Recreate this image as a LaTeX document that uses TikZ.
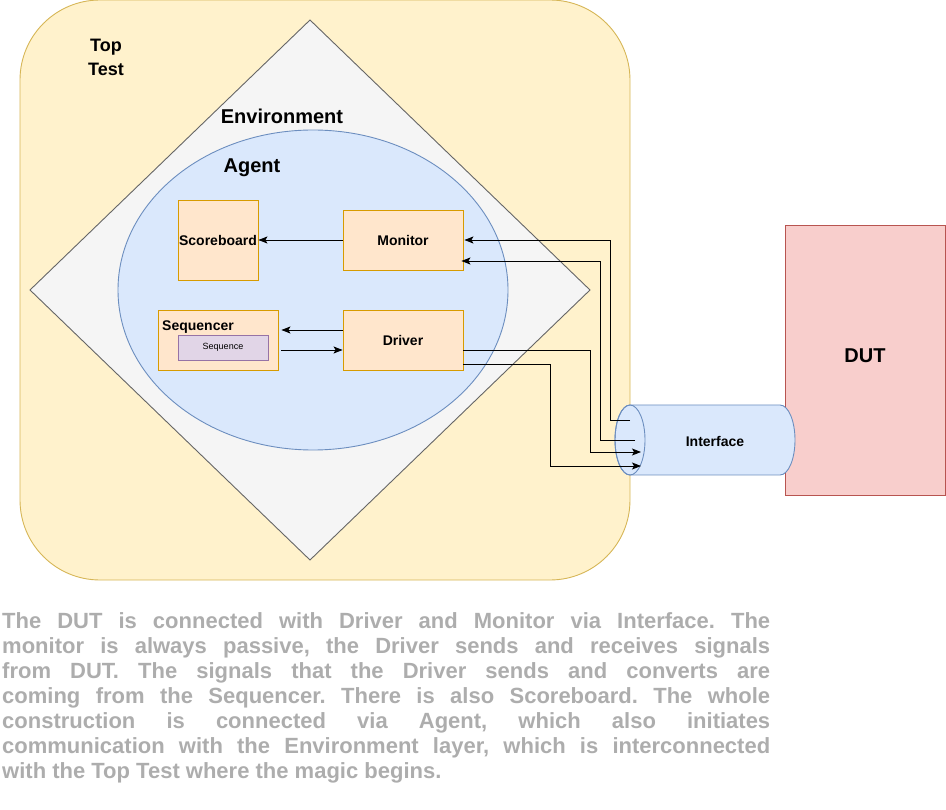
\documentclass[tikz,border=0pt]{standalone}
\usepackage{fontspec}
\setmainfont{Liberation Sans}
\usetikzlibrary{shapes.geometric,arrows.meta,calc}
\definecolor{ttfill}{HTML}{FFF2CC}
\definecolor{ttline}{HTML}{D6B656}
\definecolor{envfill}{HTML}{F5F5F5}
\definecolor{envline}{HTML}{666666}
\definecolor{agfill}{HTML}{DAE8FC}
\definecolor{agline}{HTML}{6C8EBF}
\definecolor{bxfill}{HTML}{FFE6CC}
\definecolor{bxline}{HTML}{D79B00}
\definecolor{sqfill}{HTML}{E1D5E7}
\definecolor{sqline}{HTML}{9673A6}
\definecolor{dutfill}{HTML}{F8CECC}
\definecolor{dutline}{HTML}{B85450}
\definecolor{desc}{HTML}{ADADAD}
\tikzset{
  compbox/.style={draw=bxline,fill=bxfill,line width=0.9pt,inner sep=0pt,font=\fontsize{14}{16}\selectfont\bfseries},
  conn/.style={line width=0.9pt,-{Stealth[length=9pt,width=7pt,inset=2pt]}},
  title/.style={font=\fontsize{20}{24}\selectfont\bfseries,inner sep=0pt}
}
\frenchspacing
\begin{document}
\begin{tikzpicture}[x=1pt,y=-1pt]
\useasboundingbox (0,0) rectangle (946,810);
% Top Test
\node[draw=ttline,fill=ttfill,line width=0.9pt,rounded corners=80pt,minimum width=610pt,minimum height=580pt,inner sep=0pt] (top) at (325,290) {};
\node[font=\fontsize{18}{24}\selectfont\bfseries,align=center,inner sep=0pt] (toplbl) at (106,57) {Top\\Test};
% Environment diamond
\draw[draw=envline,fill=envfill,line width=0.9pt] (310,20) -- (590,290) -- (310,560) -- (30,290) -- cycle;
\node[title] (envlbl) at (282,116) {Environment};
% Agent ellipse
\node[ellipse,draw=agline,fill=agfill,line width=0.9pt,minimum width=390pt,minimum height=320pt,inner sep=0pt] (agent) at (313,290) {};
\node[title] (aglbl) at (252,168) {Agent};
% Components
\node[compbox,minimum width=80pt,minimum height=80pt] (score) at (218,240) {Scoreboard};
\node[compbox,minimum width=120pt,minimum height=60pt] (mon) at (403,240) {Monitor};
\node[compbox,minimum width=120pt,minimum height=60pt] (drv) at (403,340) {Driver};
\node[compbox,minimum width=120pt,minimum height=60pt] (seq) at (218,340) {};
\node[font=\fontsize{14}{16}\selectfont\bfseries,anchor=west,inner sep=0pt] (seqlbl) at (162,327) {Sequencer};
\node[draw=sqline,fill=sqfill,line width=0.9pt,minimum width=90pt,minimum height=25pt,inner sep=0pt,font=\fontsize{9}{11}\selectfont] (sqc) at (223,347.5) {Sequence};
% DUT
\node[draw=dutline,fill=dutfill,line width=0.9pt,minimum width=160pt,minimum height=270pt,inner sep=0pt] (dut) at (865,360) {};
\node[title] (dutlbl) at (865,356) {DUT};
% Interface cylinder
\draw[draw=agline,fill=agfill,line width=0.9pt] (630,405) -- (780,405) arc[start angle=-90,end angle=90,x radius=15,y radius=35] -- (630,475) arc[start angle=90,end angle=270,x radius=15,y radius=35] -- cycle;
\draw[draw=agline,line width=0.9pt] (630,440) ellipse[x radius=15,y radius=35];
\node[font=\fontsize{14}{16}\selectfont\bfseries,inner sep=0pt] (iflbl) at (715,441) {Interface};
\coordinate (if1) at (630,420);
\coordinate (if2) at (635,440);
\coordinate (if3) at (641,452);
\coordinate (if4) at (641,466);
% Connectors
\draw[conn] (mon.west) -- (score.east);
\draw[conn] ($(drv.west)+(0,-10)$) -- ($(seq.east)+(3,-10)$);
\draw[conn] ($(seq.east)+(3,10)$) -- ($(drv.west)+(0,10)$);
\draw[conn] (if1) -- (610,420) -- (610,240) -- ($(mon.east)+(1,0)$);
\draw[conn] (if2) -- (600,440) -- (600,261) -- ($(mon.east)+(-2,21)$);
\draw[conn] ($(drv.east)+(0,10)$) -- (590,350) -- (590,452) -- (if3);
\draw[conn] ($(drv.east)+(0,24)$) -- (550,364) -- (550,466) -- (if4);
% Description
\node[anchor=north west,inner sep=0pt,text width=768pt,align=justify,text=desc,font=\fontsize{22}{25}\selectfont\bfseries] (desc) at (2,612) {The DUT is connected with Driver and Monitor via Interface. The\linebreak
monitor is always passive, the Driver sends and receives signals\linebreak
from DUT. The signals that the Driver sends and converts are\linebreak
coming from the Sequencer. There is also Scoreboard. The whole\linebreak
construction is connected via Agent, which also initiates\linebreak
communication with the Environment layer, which is interconnected\linebreak
with the Top Test where the magic begins.};
\end{tikzpicture}
\end{document}
